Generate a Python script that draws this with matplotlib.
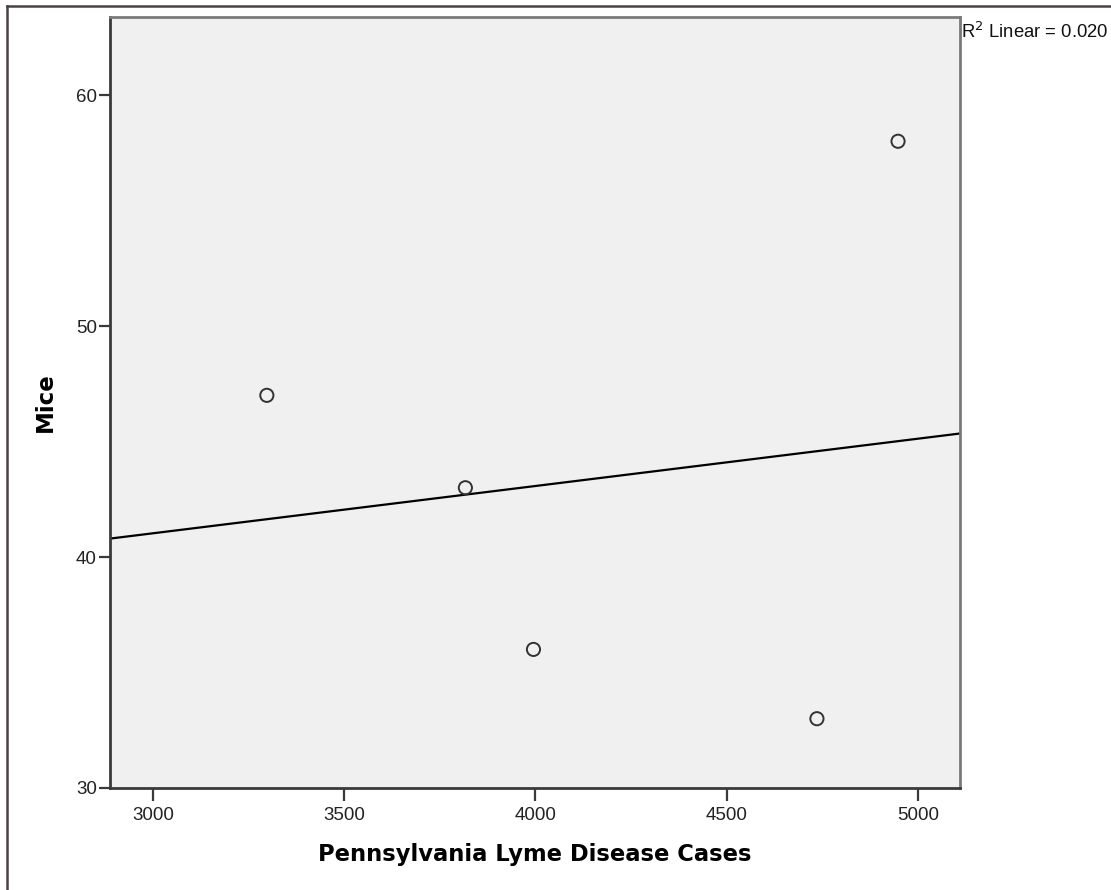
import numpy as np
import matplotlib
matplotlib.use('Agg')
import matplotlib.pyplot as plt
from matplotlib.lines import Line2D

# values
lyme_cases = [3298, 3817, 3995, 4736, 4948]
mice = [47, 43, 36, 33, 58]
x_ticks = [3000, 3500, 4000, 4500, 5000]
y_ticks = [30, 40, 50, 60]

plt.rcParams['font.family'] = ['Liberation Sans', 'DejaVu Sans']

fig = plt.figure(figsize=(11.11, 8.90), dpi=100)
ax = fig.add_axes([110 / 1111, 1 - 788 / 890, 850 / 1111, 771 / 890])
ax.set_facecolor('#f0f0f0')

ax.scatter(lyme_cases, mice, s=90, facecolors='none', edgecolors='#333333',
           linewidths=1.4, zorder=3)

# linear fit line
xs = np.array(lyme_cases, dtype=float)
ys = np.array(mice, dtype=float)
slope, intercept = np.polyfit(xs, ys, 1)
r2 = np.corrcoef(xs, ys)[0, 1] ** 2
xlim = (2888, 5110)
ax.plot(xlim, [slope * xlim[0] + intercept, slope * xlim[1] + intercept],
        color='black', lw=1.6, zorder=2)

ax.set_xlim(*xlim)
ax.set_ylim(30, 63.38)
ax.set_xticks(x_ticks)
ax.set_yticks(y_ticks)

for side in ['left', 'bottom']:
    ax.spines[side].set_color('#3a3a3a')
    ax.spines[side].set_linewidth(2)
for side in ['top', 'right']:
    ax.spines[side].set_color('#7a7a7a')
    ax.spines[side].set_linewidth(2)

ax.tick_params(axis='x', length=9, width=1.6, color='#3a3a3a', pad=5,
               labelsize=13.5, labelcolor='#222222')
ax.tick_params(axis='y', length=8, width=1.6, color='#3a3a3a', pad=1.5,
               labelsize=13.5, labelcolor='#222222')

ax.set_xlabel('Pennsylvania Lyme Disease Cases', fontsize=16.3,
              fontweight='bold', family=['DejaVu Sans'], va='center')
ax.xaxis.set_label_coords(0.5, (788 - 855) / 771)
ax.set_ylabel('Mice', fontsize=16.5, fontweight='bold',
              family=['DejaVu Sans'], va='center')
ax.yaxis.set_label_coords((45 - 110) / 850, 0.5)

fig.text(961 / 1111, 1 - 32 / 890, r'R$^2$ Linear = %.3f' % r2,
         fontsize=13.3, ha='left', va='center', color='#111111')

# outer frame (left and top edges only)
fig.add_artist(Line2D([7 / 1111, 7 / 1111], [0, 1 - 6 / 890],
                      color='#4a4242', lw=1.8, transform=fig.transFigure))
fig.add_artist(Line2D([7 / 1111, 1], [1 - 6 / 890, 1 - 6 / 890],
                      color='#4a4242', lw=1.8, transform=fig.transFigure))

fig.savefig('out.png', dpi=100, facecolor='white')
